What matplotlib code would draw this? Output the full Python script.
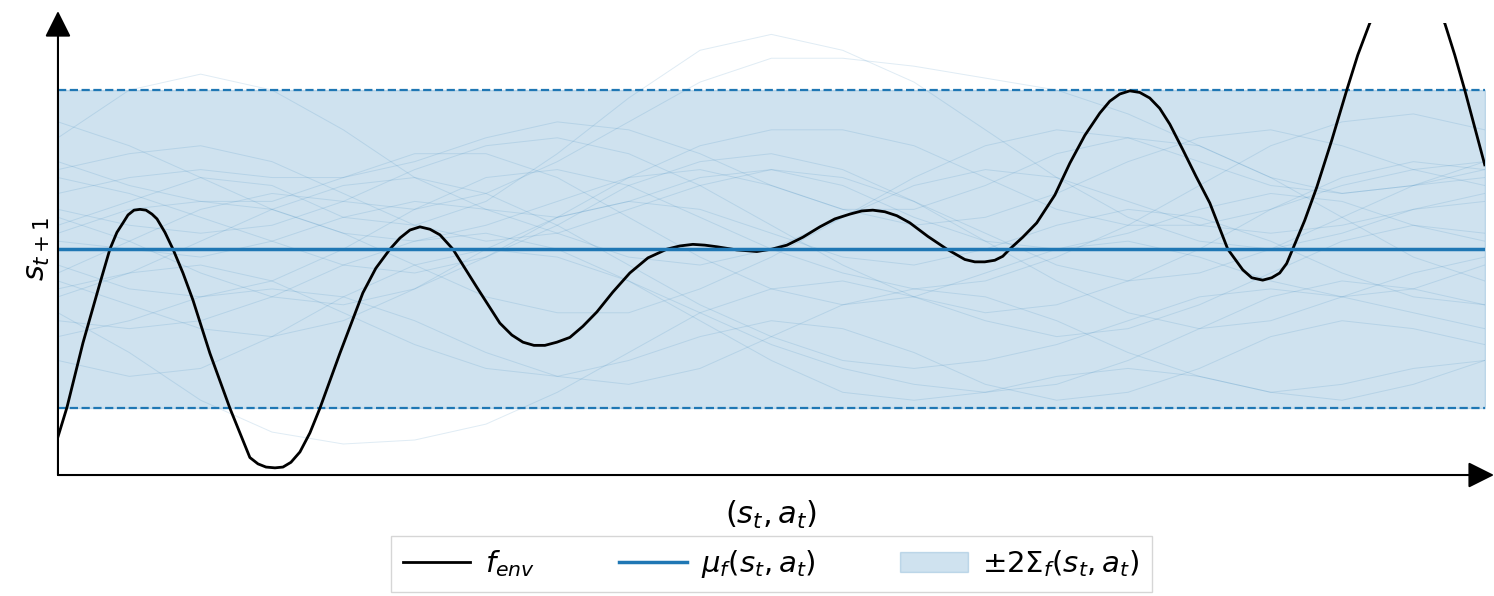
import numpy as np
from matplotlib import pyplot as plt

# black "true" environment function (x in [0,1], y in sigma units)
env_x = [0.0, .0063, .0175, .0294, .0364, .0413, .0456, .0491, .0533, .0575,
         .0617, .0659, .0694, .0750, .0806, .0876, .0946, .1065, .1205, .1345,
         .1402, .1458, .1521, .1577, .1633, .1696, .1766, .1836, .1976, .2137,
         .2228, .2327, .2397, .2467, .2537, .2607, .2677, .2768, .2936, .3097,
         .3181, .3259, .3336, .3413, .3497, .3588, .3679, .3777, .3889, .4008,
         .4135, .4268, .4359, .4450, .4534, .4618, .4758, .4898, .5004, .5109,
         .5221, .5340, .5445, .5550, .5634, .5711, .5795, .5880, .5971, .6097,
         .6230, .6356, .6426, .6496, .6566, .6622, .6671, .6762, .6860, .6987,
         .7092, .7197, .7302, .7372, .7442, .7512, .7582, .7652, .7722, .7793,
         .7884, .7975, .8073, .8136, .8199, .8304, .8367, .8444, .8507, .8563,
         .8612, .8654, .8738, .8823, .8928, .9033, .9110, .9194, .9334, .9453,
         .9580, .9720, .9790, .9860, .9930, 1.0]
env_y = [-2.36, -1.99, -1.18, -0.43, 0.0, 0.21, 0.33, 0.43, 0.49, 0.50,
         0.49, 0.44, 0.38, 0.21, 0.0, -0.30, -0.64, -1.31, -2.0, -2.62,
         -2.70, -2.74, -2.75, -2.74, -2.68, -2.55, -2.31, -2.0, -1.31, -0.55,
         -0.24, 0.0, 0.14, 0.24, 0.28, 0.25, 0.18, 0.0, -0.48, -0.93,
         -1.08, -1.17, -1.21, -1.21, -1.17, -1.11, -0.97, -0.79, -0.54, -0.30,
         -0.11, 0.0, 0.04, 0.06, 0.05, 0.03, -0.01, -0.03, 0.0, 0.05,
         0.15, 0.28, 0.38, 0.44, 0.48, 0.49, 0.47, 0.42, 0.33, 0.16,
         0.0, -0.13, -0.16, -0.16, -0.14, -0.09, 0.0, 0.15, 0.33, 0.68,
         1.08, 1.43, 1.71, 1.86, 1.95, 1.99, 1.97, 1.90, 1.77, 1.57,
         1.25, 0.92, 0.58, 0.29, 0.0, -0.26, -0.36, -0.39, -0.36, -0.30,
         -0.18, 0.0, 0.36, 0.78, 1.37, 2.0, 2.44, 2.84, 3.26, 3.38,
         3.26, 2.84, 2.44, 2.0, 1.53, 1.06]

# GP prior: constant mean, constant std
mean_val = 0.0
std_val = 1.0

# faint prior samples (rough readings at x = 0, 0.05, ..., 1)
sample_x = [0.0, 0.05, 0.1, 0.15, 0.2, 0.25, 0.3, 0.35, 0.4, 0.45, 0.5,
            0.55, 0.6, 0.65, 0.7, 0.75, 0.8, 0.85, 0.9, 0.95, 1.0]
samples = [
    [1.4, 2.0, 2.2, 2.0, 1.5, 0.9, 0.5, 0.4, 0.6, 0.9, 1.0, 0.8, 0.4, 0.1, 0.0, 0.2, 0.5, 0.7, 0.6, 0.3, 0.1],
    [-0.8, -1.3, -1.9, -2.3, -2.45, -2.4, -2.2, -1.8, -1.3, -0.8, -0.5, -0.4, -0.6, -0.9, -1.1, -1.0, -0.7, -0.3, 0.1, 0.3, 0.2],
    [0.3, 0.6, 0.9, 0.8, 0.4, 0.3, 0.6, 1.2, 1.9, 2.5, 2.7, 2.5, 2.1, 1.5, 0.9, 0.4, 0.1, 0.0, 0.2, 0.5, 0.7],
    [-0.3, 0.1, 0.5, 0.7, 0.6, 0.5, 0.7, 1.1, 1.6, 2.1, 2.4, 2.4, 2.3, 2.15, 2.0, 1.7, 1.3, 0.9, 0.7, 0.8, 1.0],
    [1.0, 1.2, 1.3, 1.1, 0.7, 0.3, 0.1, 0.2, 0.5, 0.8, 1.0, 0.9, 0.6, 0.2, -0.2, -0.4, -0.3, 0.0, 0.4, 0.8, 1.1],
    [0.5, 0.3, 0.2, 0.3, 0.6, 1.0, 1.3, 1.4, 1.2, 0.8, 0.3, -0.2, -0.6, -0.8, -0.7, -0.4, 0.0, 0.5, 0.9, 1.1, 1.0],
    [-0.2, -0.5, -0.6, -0.4, 0.0, 0.5, 0.9, 1.0, 0.8, 0.4, 0.0, -0.3, -0.5, -0.4, -0.1, 0.3, 0.8, 1.3, 1.6, 1.7, 1.5],
    [-1.1, -0.9, -0.6, -0.5, -0.6, -0.9, -1.3, -1.6, -1.7, -1.5, -1.1, -0.7, -0.5, -0.6, -0.9, -1.3, -1.6, -1.8, -1.7, -1.5, -1.4],
    [0.9, 0.7, 0.4, 0.1, -0.2, -0.3, -0.1, 0.3, 0.8, 1.1, 1.2, 1.0, 0.6, 0.1, -0.4, -0.8, -1.0, -0.9, -0.6, -0.3, -0.1],
    [-0.6, -0.3, 0.1, 0.5, 0.8, 0.9, 0.7, 0.3, -0.2, -0.7, -1.1, -1.4, -1.5, -1.4, -1.2, -0.9, -0.6, -0.5, -0.6, -0.8, -1.0],
    [1.6, 1.3, 0.9, 0.5, 0.2, 0.1, 0.3, 0.6, 0.9, 1.0, 0.8, 0.5, 0.3, 0.4, 0.7, 1.1, 1.4, 1.5, 1.3, 1.0, 0.8],
    [-1.4, -1.6, -1.5, -1.1, -0.6, -0.2, 0.0, -0.1, -0.4, -0.8, -1.2, -1.5, -1.7, -1.8, -1.7, -1.4, -1.0, -0.6, -0.4, -0.5, -0.7],
    [0.2, 0.5, 0.6, 0.5, 0.2, -0.2, -0.6, -0.8, -0.8, -0.5, -0.1, 0.4, 0.8, 1.0, 0.9, 0.6, 0.3, 0.2, 0.3, 0.5, 0.6],
    [-0.4, -0.7, -1.0, -1.1, -0.9, -0.5, 0.0, 0.4, 0.6, 0.5, 0.2, -0.1, -0.2, 0.0, 0.3, 0.5, 0.4, 0.1, -0.3, -0.6, -0.7],
    [0.7, 0.9, 1.0, 0.9, 0.9, 1.1, 1.4, 1.6, 1.5, 1.2, 0.8, 0.5, 0.5, 0.8, 1.2, 1.4, 1.3, 0.9, 0.4, -0.1, -0.4],
    [-0.9, -1.0, -0.9, -0.6, -0.2, 0.1, 0.2, 0.0, -0.4, -0.9, -1.4, -1.8, -1.9, -1.8, -1.6, -1.5, -1.6, -1.8, -1.9, -1.7, -1.4],
    [0.1, 0.0, -0.1, 0.1, 0.4, 0.6, 0.5, 0.2, -0.1, -0.2, 0.0, 0.4, 0.9, 1.3, 1.5, 1.4, 1.1, 0.8, 0.7, 0.8, 0.9],
    [1.1, 0.8, 0.6, 0.6, 0.9, 1.2, 1.2, 0.9, 0.4, -0.1, -0.5, -0.7, -0.6, -0.3, 0.0, 0.1, -0.1, -0.4, -0.6, -0.5, -0.2],
    [-0.5, -0.3, -0.2, -0.4, -0.8, -1.2, -1.5, -1.6, -1.4, -1.1, -0.9, -1.0, -1.3, -1.7, -1.9, -1.8, -1.5, -1.1, -0.9, -1.0, -1.2],
    [0.4, 0.1, -0.3, -0.6, -0.7, -0.5, -0.1, 0.4, 0.9, 1.3, 1.5, 1.5, 1.3, 0.9, 0.5, 0.3, 0.3, 0.5, 0.8, 1.0, 1.1],
]

blue = "#1f77b4"

fig = plt.figure(figsize=(14.94, 5.96), dpi=100)
ax = fig.add_axes([0.0388, 0.203, 0.955, 0.758])

# prior samples
for s in samples:
    ax.plot(sample_x, s, color=blue, lw=0.7, alpha=0.14)

# band +- 2 std
xs = [0.0, 1.0]
lo = [mean_val - 2 * std_val] * 2
hi = [mean_val + 2 * std_val] * 2
ax.fill_between(xs, lo, hi, color=blue, alpha=0.21, label=r"$\pm2\Sigma_f(s_t, a_t)$")
ax.plot(xs, lo, color=blue, ls="--", lw=1.6)
ax.plot(xs, hi, color=blue, ls="--", lw=1.6)

ax.plot(env_x, env_y, color="black", lw=2.0, label=r"$f_{env}$")
ax.plot(xs, [mean_val] * 2, color=blue, lw=2.5, label=r"$\mu_f(s_t, a_t)$")

ax.set_xlim(0, 1)
ax.set_ylim(-2.84, 2.84)
ax.set_xticks([])
ax.set_yticks([])
for sp in ax.spines.values():
    sp.set_visible(False)

# axis arrows
arrow = dict(arrowstyle="-|>,head_length=0.8,head_width=0.4", color="black",
             lw=1.5, mutation_scale=20, shrinkA=0, shrinkB=0)
ax.annotate("", xy=(1.0065, 0), xytext=(0, 0), xycoords="axes fraction",
            textcoords="axes fraction", arrowprops=arrow, annotation_clip=False)
ax.annotate("", xy=(0, 1.027), xytext=(0, 0), xycoords="axes fraction",
            textcoords="axes fraction", arrowprops=arrow, annotation_clip=False)

ax.set_xlabel(r"$(s_t, a_t)$", fontsize=22, labelpad=17)
ax.set_ylabel(r"$s_{t+1}$", fontsize=22, labelpad=4)

handles, labels = ax.get_legend_handles_labels()
order = [1, 2, 0]
leg = ax.legend([handles[i] for i in order], [labels[i] for i in order],
                loc="upper center", bbox_to_anchor=(0.5, -0.102), ncol=3,
                fontsize=21, fancybox=False, edgecolor="#cccccc",
                borderpad=0.42, columnspacing=2.9, handlelength=2.3,
                handletextpad=0.5)

plt.savefig("out.png", dpi=100)
